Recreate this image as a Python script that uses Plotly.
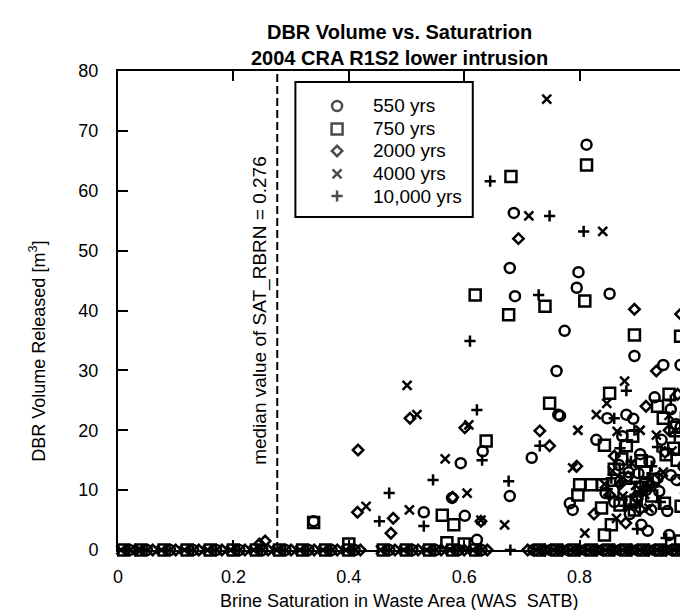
import plotly.graph_objects as go

# ---------------- data ----------------
series_names = ["550 yrs", "750 yrs", "2000 yrs", "4000 yrs", "10,000 yrs"]

# 550 yrs (open circles) - non-zero releases
c550_x = [0.686, 0.679, 0.798, 0.795, 0.852, 0.688, 0.774, 0.895, 0.760, 0.945, 0.975,
          0.763, 0.848, 0.881, 0.893, 0.812, 0.632, 0.594, 0.679, 0.579, 0.530, 0.601,
          0.339, 0.622, 0.717, 0.766, 0.829, 0.874, 0.942, 0.930, 0.958, 0.967, 0.968,
          0.783, 0.788, 0.924, 0.952, 0.907, 0.918, 0.870, 0.900, 0.885, 0.915, 0.860,
          0.990, 0.955, 0.980, 0.845, 0.935, 0.905, 0.868, 0.887, 0.902, 0.921, 0.938,
          0.958, 0.975, 0.992]
c550_y = [56.3, 47.1, 46.4, 43.8, 42.8, 42.4, 36.6, 32.4, 29.9, 30.9, 30.9,
          22.6, 22.0, 22.6, 21.9, 67.7, 16.5, 14.5, 9.0, 8.7, 6.3, 5.7,
          4.8, 1.7, 15.4, 22.4, 18.4, 19.0, 18.4, 25.5, 23.5, 21.0, 11.7,
          7.8, 6.7, 6.7, 6.5, 4.2, 3.2, 11.5, 9.0, 13.0, 10.0, 8.0,
          25.0, 2.5, 14.0, 9.5, 12.0, 16.0, 14.2, 6.0, 12.8, 14.8, 9.8,
          12.5, 20.5, 17.0]
c550_zero_x = [0.02, 0.05, 0.09, 0.13, 0.17, 0.21, 0.25, 0.29, 0.33, 0.37, 0.41, 0.47,
               0.51, 0.55, 0.59, 0.63, 0.72, 0.75, 0.78, 0.81, 0.84, 0.87, 0.90, 0.93,
               0.96, 0.99]

# 750 yrs (open squares)
s750_x = [0.812, 0.681, 0.619, 0.740, 0.809, 0.677, 0.895, 0.975, 0.852, 0.748, 0.638,
          0.562, 0.582, 0.339, 0.843, 0.892, 0.881, 0.907, 0.950, 0.969, 0.987, 0.994,
          0.800, 0.820, 0.840, 0.797, 0.895, 0.976, 0.987, 0.843, 0.855, 0.955, 0.935,
          0.965, 0.880, 0.905, 0.860, 0.925, 0.870, 0.963, 0.945, 0.975, 0.570, 0.600,
          0.400, 0.915, 0.890, 0.858, 0.873, 0.898, 0.913, 0.928, 0.947, 0.985, 0.996,
          0.838]
s750_y = [64.3, 62.4, 42.6, 40.7, 41.6, 39.3, 35.9, 35.7, 26.2, 24.5, 18.2,
          5.8, 4.2, 4.6, 17.5, 19.0, 17.4, 14.9, 15.9, 15.0, 15.4, 12.5,
          10.9, 10.9, 10.9, 9.2, 6.7, 7.3, 4.8, 2.5, 4.2, 26.0, 24.0,
          20.5, 12.0, 10.5, 13.5, 9.0, 7.5, 17.0, 22.0, 1.5, 1.2, 1.0,
          1.0, 11.0, 8.0, 9.8, 15.2, 8.3, 13.0, 11.8, 7.8, 22.0, 27.5,
          7.0]
s750_zero_x = [0.01, 0.04, 0.08, 0.12, 0.16, 0.20, 0.24, 0.28, 0.32, 0.36, 0.40, 0.46,
               0.50, 0.54, 0.58, 0.62, 0.73, 0.76, 0.79, 0.82, 0.85, 0.88, 0.91, 0.94,
               0.97]

# 2000 yrs (open diamonds)
d2000_x = [0.694, 0.895, 0.975, 0.933, 0.506, 0.601, 0.731, 0.416, 0.748, 0.415, 0.477,
           0.629, 0.473, 0.255, 0.245, 0.795, 0.860, 0.870, 0.900, 0.940, 0.955, 0.880,
           0.915, 0.985, 0.825, 0.580, 0.852, 0.884, 0.905, 0.922, 0.948, 0.970, 0.990]
d2000_y = [52.0, 40.2, 39.4, 29.9, 22.0, 20.4, 19.9, 16.7, 17.4, 6.3, 5.3,
           4.8, 2.8, 1.5, 1.0, 14.0, 15.7, 11.0, 8.5, 12.5, 20.0, 4.5,
           24.0, 9.5, 6.0, 8.8, 9.2, 12.2, 6.8, 10.8, 16.3, 26.0, 13.5]
d2000_zero_x = [0.03, 0.06, 0.10, 0.14, 0.18, 0.22, 0.26, 0.30, 0.34, 0.38, 0.42, 0.48,
                0.52, 0.56, 0.60, 0.64, 0.71, 0.74, 0.77, 0.80, 0.83, 0.86, 0.89, 0.92,
                0.95, 0.98]

# 4000 yrs (x marks)
x4000_x = [0.743, 0.712, 0.840, 0.878, 0.847, 0.829, 0.501, 0.518, 0.608, 0.797, 0.567,
           0.605, 0.430, 0.505, 0.629, 0.670, 0.788, 0.933, 0.864, 0.809, 0.843, 0.905,
           0.945, 0.960, 0.875, 0.890, 0.920, 0.985, 0.857, 0.872, 0.897, 0.913, 0.955,
           0.978, 0.865]
x4000_y = [75.3, 55.8, 53.2, 28.2, 24.5, 22.6, 27.5, 22.6, 20.9, 20.0, 15.2,
           9.5, 7.3, 6.7, 5.0, 4.2, 13.7, 19.2, 5.3, 2.8, 11.0, 20.0,
           13.0, 16.5, 9.0, 14.5, 7.0, 3.0, 13.2, 11.8, 10.8, 9.3, 22.5,
           11.5, 19.8]
x4000_zero_x = [0.005, 0.035, 0.075, 0.115, 0.155, 0.195, 0.235, 0.275, 0.315, 0.355,
                0.395, 0.455, 0.495, 0.535, 0.575, 0.615, 0.725, 0.755, 0.785, 0.815,
                0.845, 0.875, 0.905, 0.935, 0.965, 0.995]

# 10,000 yrs (plus marks)
p10000_x = [0.645, 0.748, 0.807, 0.729, 0.610, 0.881, 0.622, 0.731, 0.631, 0.546, 0.677,
            0.470, 0.453, 0.530, 0.855, 0.870, 0.895, 0.910, 0.925, 0.940, 0.965, 0.980,
            0.900, 0.860, 0.950, 0.848, 0.877, 0.889, 0.918, 0.935, 0.958, 0.990]
p10000_y = [61.6, 55.8, 53.2, 42.6, 34.9, 26.6, 23.4, 17.4, 15.0, 11.7, 11.5,
            9.5, 4.8, 4.0, 12.0, 17.0, 20.0, 10.5, 14.0, 8.0, 19.0, 12.5,
            3.5, 22.0, 2.0, 10.2, 7.4, 14.8, 12.1, 17.2, 25.0, 8.5]
p10000_zero_x = [0.015, 0.045, 0.085, 0.125, 0.165, 0.205, 0.245, 0.285, 0.325, 0.365,
                 0.405, 0.465, 0.505, 0.545, 0.585, 0.625, 0.680, 0.735, 0.765, 0.795,
                 0.825, 0.855, 0.885, 0.915, 0.945, 0.975]

median_sat_rbrn = 0.276
x_tick_vals = [0, 0.2, 0.4, 0.6, 0.8]
x_tick_text = ["0", "0.2", "0.4", "0.6", "0.8"]
y_tick_vals = [0, 10, 20, 30, 40, 50, 60, 70, 80]

# ---------------- styling ----------------
FONT = "Liberation Sans, Arial, sans-serif"
symbols = ["circle-open", "square-open", "diamond-open", "x-thin-open", "cross-thin-open"]
sizes = [10, 11, 8, 9, 8]
stroke = 2.5

fig = go.Figure()

groups = [
    (c550_x, c550_y, c550_zero_x),
    (s750_x, s750_y, s750_zero_x),
    (d2000_x, d2000_y, d2000_zero_x),
    (x4000_x, x4000_y, x4000_zero_x),
    (p10000_x, p10000_y, p10000_zero_x),
]
for name, (xs, ys, zx), sym, sz in zip(series_names, groups, symbols, sizes):
    fig.add_trace(go.Scatter(
        x=list(xs) + list(zx),
        y=list(ys) + [0.0] * len(zx),
        mode="markers",
        name=name,
        showlegend=False,
        cliponaxis=False,
        marker=dict(symbol=sym, size=sz, color="black",
                    line=dict(color="black", width=stroke)),
    ))

# ---- hand-drawn legend (box, keys on an overlay 0..1 axis pair, labels) ----
leg_left, leg_right, leg_bottom, leg_top = 0.3085, 0.617, 0.695, 0.977
leg_key_x = 0.381
leg_text_x = 0.4402
leg_rows = [0.927, 0.879, 0.833, 0.785, 0.739]

fig.add_shape(type="rect", xref="paper", yref="paper", layer="below",
              x0=leg_left, x1=leg_right, y0=leg_bottom, y1=leg_top,
              fillcolor="white", line=dict(color="black", width=2))

fig.add_trace(go.Scatter(
    x=[leg_key_x] * len(series_names), y=leg_rows,
    xaxis="x2", yaxis="y2", mode="markers", showlegend=False, cliponaxis=False,
    hoverinfo="skip",
    marker=dict(symbol=symbols, size=sizes, color="black",
                line=dict(color="black", width=stroke)),
))
for name, ry in zip(series_names, leg_rows):
    fig.add_annotation(x=leg_text_x, y=ry, xref="paper", yref="paper",
                       xanchor="left", yanchor="middle", text=name, showarrow=False,
                       font=dict(family=FONT, size=19, color="black"))

# ---- median line and its label ----
fig.add_shape(type="line", xref="x", yref="y",
              x0=median_sat_rbrn, x1=median_sat_rbrn, y0=0, y1=80,
              line=dict(color="black", width=2, dash="8px,4px"))

fig.add_annotation(x=0.245, y=40, xref="x", yref="y", xanchor="center", yanchor="middle",
                   text="median value of SAT_RBRN = 0.276", textangle=-90,
                   showarrow=False, font=dict(family=FONT, size=19, color="black"))

# ---- titles ----
fig.add_annotation(x=0.49, y=1.0, xref="paper", yref="paper",
                   xanchor="center", yanchor="bottom",
                   text="<b>DBR Volume vs. Saturatrion</b><br><b>2004 CRA R1S2 lower intrusion</b>",
                   showarrow=False, font=dict(family=FONT, size=20, color="black"))

fig.add_annotation(x=-0.140, y=0.415, xref="paper", yref="paper",
                   xanchor="center", yanchor="middle",
                   text="DBR Volume Released [m<sup>3</sup>]", textangle=-90,
                   showarrow=False, font=dict(family=FONT, size=18, color="black"))

fig.add_annotation(x=0.489, y=-0.1075, xref="paper", yref="paper",
                   xanchor="center", yanchor="middle",
                   text="Brine Saturation in Waste Area (WAS_SATB)",
                   showarrow=False, font=dict(family=FONT, size=18, color="black"))

fig.add_annotation(x=1.0035, y=-0.057, xref="paper", yref="paper",
                   xanchor="center", yanchor="middle",
                   text="1", showarrow=False,
                   font=dict(family=FONT, size=18, color="black"))

axis_common = dict(showline=True, linecolor="black", linewidth=2, mirror="ticks",
                   ticks="inside", ticklen=10, tickwidth=2, tickcolor="black",
                   showgrid=False, zeroline=False,
                   tickfont=dict(family=FONT, size=18, color="black"))

fig.update_layout(
    width=688, height=610, autosize=False,
    margin=dict(l=110, r=1, t=63, b=68),
    paper_bgcolor="white", plot_bgcolor="white",
    font=dict(family=FONT, color="black"),
    showlegend=False,
    xaxis=dict(range=[0, 0.9965], tickvals=x_tick_vals, ticktext=x_tick_text,
               ticklabelstandoff=9, **axis_common),
    yaxis=dict(range=[0, 80], tickvals=y_tick_vals,
               ticklabelstandoff=14, **axis_common),
    xaxis2=dict(overlaying="x", range=[0, 1], visible=False),
    yaxis2=dict(overlaying="y", range=[0, 1], visible=False),
)

fig.write_html("out.html")
